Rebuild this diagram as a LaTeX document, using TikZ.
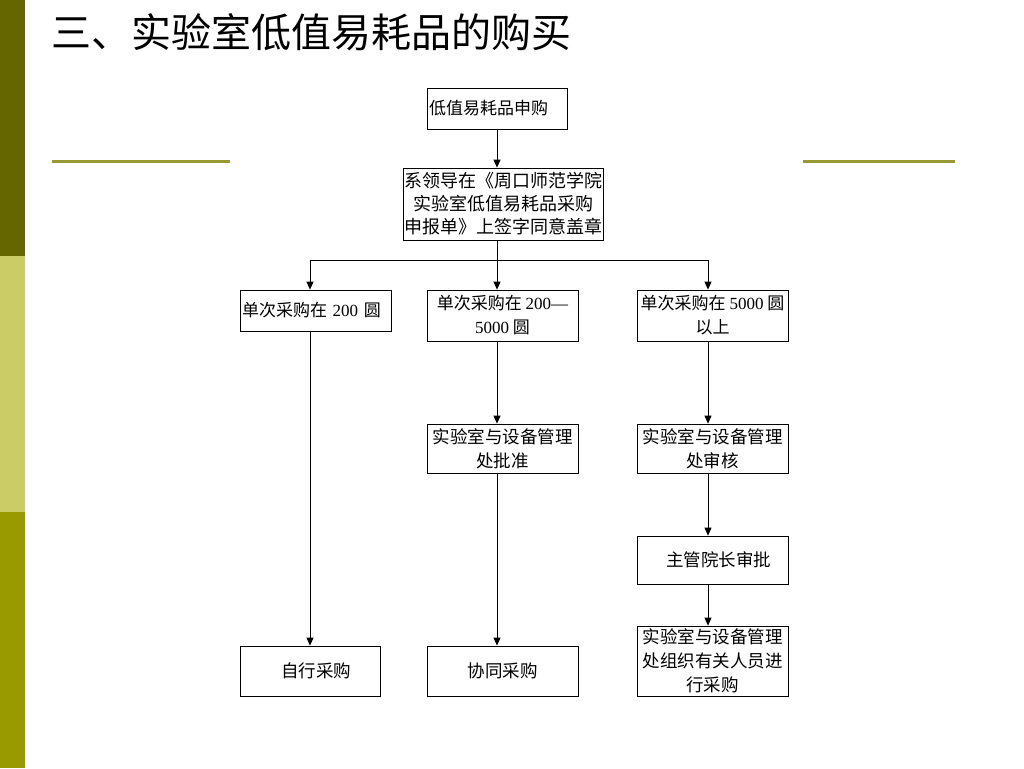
\documentclass[tikz,border=0pt]{standalone}
\usepackage{fontspec}
\setmainfont{Liberation Serif}
\newfontfamily\cjk{Noto Sans CJK SC}
\usetikzlibrary{arrows.meta}
\definecolor{barA}{HTML}{666600}
\definecolor{barB}{HTML}{CCCC66}
\definecolor{barC}{HTML}{999900}
\definecolor{rule}{HTML}{999933}
\newcommand\rmn[1]{{\rmfamily #1}}
\begin{document}
\begin{tikzpicture}[x=1pt,y=-1pt,
  box/.style={draw=black, line width=0.8pt, align=center, inner sep=1pt},
  fsmall/.style={font=\cjk\fontsize{17}{23}\selectfont},
  fbig/.style={font=\cjk\fontsize{17.5}{24}\selectfont},
  fmid/.style={font=\cjk\fontsize{17}{24}\selectfont},
  arr/.style={-{Triangle[length=8pt,width=7pt]}, line width=0.8pt},
  ln/.style={line width=0.8pt}]
\useasboundingbox (0,0) rectangle (1024,768);
\fill[white] (0,0) rectangle (1024,768);
% left bar
\fill[barA] (0,0) rectangle (25,256);
\fill[barB] (0,256) rectangle (25,512);
\fill[barC] (0,512) rectangle (25,768);
% rules
\draw[rule, line width=3pt] (52,161) -- (230,161);
\draw[rule, line width=3pt] (803,161) -- (955,161);
% title
\node[anchor=west, inner sep=0pt, font=\cjk\fontsize{40}{44}\selectfont] (title) at (51,32) {三、实验室低值易耗品的购买};
% boxes
\node[box, fsmall, minimum width=140pt, minimum height=41pt, text width=136pt, align=left] (n1) at (497,108.5) {低值易耗品申购};
\node[box, fsmall, font=\cjk\fontsize{18}{23}\selectfont, minimum width=200pt, minimum height=72pt] (n2) at (503,204) {系领导在《周口师范学院\\实验室低值易耗品采购\\申报单》上签字同意盖章};
\node[box, fmid, minimum width=151pt, minimum height=41pt, text width=147pt, align=left] (A) at (315.5,310.5) {单次采购在 \rmn{200} 圆};
\node[box, fmid, minimum width=151pt, minimum height=51pt] (B) at (502.5,315.5) {单次采购在 \rmn{200—}\\\rmn{5000} 圆};
\node[box, fmid, minimum width=151pt, minimum height=51pt] (C) at (712.5,315.5) {单次采购在 \rmn{5000} 圆\\以上};
\node[box, fbig, minimum width=151pt, minimum height=49pt] (D) at (502.5,448.5) {实验室与设备管理\\处批准};
\node[box, fbig, minimum width=151pt, minimum height=49pt] (E) at (712.5,448.5) {实验室与设备管理\\处审核};
\node[box, fbig, minimum width=151pt, minimum height=48pt] (F) at (712.5,560) {\hspace{12pt}主管院长审批};
\node[box, fbig, minimum width=151pt, minimum height=70pt] (G) at (712.5,661) {实验室与设备管理\\处组织有关人员进\\行采购};
\node[box, fbig, minimum width=140pt, minimum height=50pt] (H) at (310,671) {\hspace{12pt}自行采购};
\node[box, fbig, minimum width=151pt, minimum height=50pt] (I) at (502.5,671) {协同采购};
% connector columns
\coordinate (c1) at (310,260);
\coordinate (c2) at (497,260);
\coordinate (c3) at (708,260);
% connectors
\draw[arr] (n1.south) -- (n1.south |- n2.north);
\draw[ln] (c2 |- n2.south) -- (c2);
\draw[ln] (c1) -- (c3);
\draw[arr] (c1) -- (c1 |- A.north);
\draw[arr] (c2) -- (c2 |- B.north);
\draw[arr] (c3) -- (c3 |- C.north);
\draw[arr] (c1 |- A.south) -- (c1 |- H.north);
\draw[arr] (c2 |- B.south) -- (c2 |- D.north);
\draw[arr] (c2 |- D.south) -- (c2 |- I.north);
\draw[arr] (c3 |- C.south) -- (c3 |- E.north);
\draw[arr] (c3 |- E.south) -- (c3 |- F.north);
\draw[arr] (c3 |- F.south) -- (c3 |- G.north);
\end{tikzpicture}
\end{document}
